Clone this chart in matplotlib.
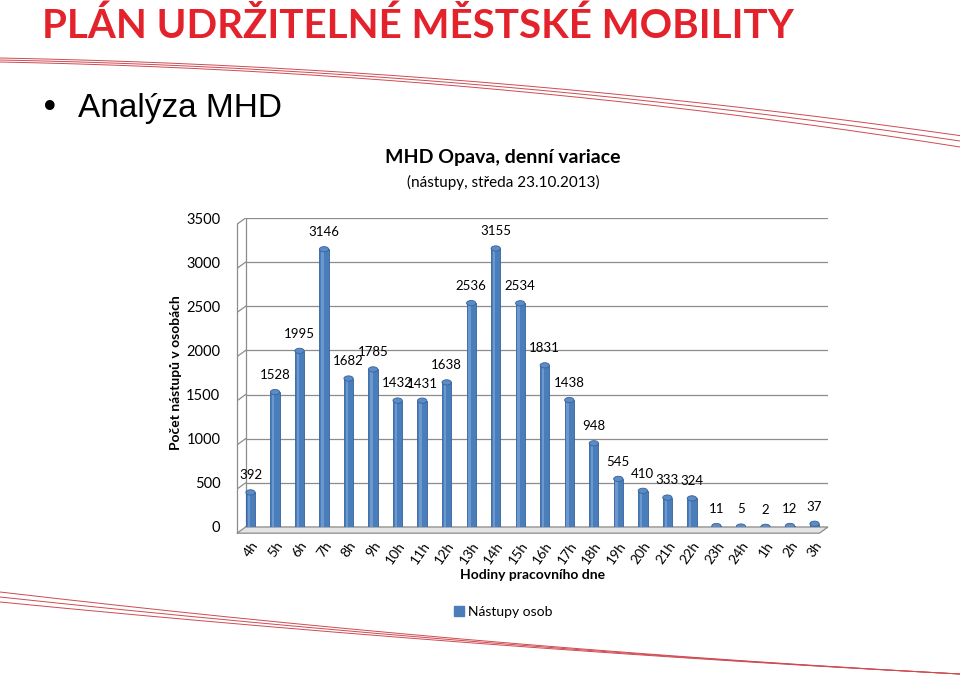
import matplotlib.pyplot as plt
import numpy as np
from matplotlib.patches import Ellipse, Polygon

hours = ["4h", "5h", "6h", "7h", "8h", "9h", "10h", "11h", "12h", "13h", "14h", "15h",
         "16h", "17h", "18h", "19h", "20h", "21h", "22h", "23h", "24h", "1h", "2h", "3h"]
boardings = [392, 1528, 1995, 3146, 1682, 1785, 1432, 1431, 1638, 2536, 3155, 2534,
             1831, 1438, 948, 545, 410, 333, 324, 11, 5, 2, 12, 37]
yticks = [0, 500, 1000, 1500, 2000, 2500, 3000, 3500]

font = "Lato"
blue = "#4A7EBB"
grid = "#8C8C8C"

fig = plt.figure(figsize=(9.6, 6.81), dpi=100)

# slide background decoration (red swooshes)
bg = fig.add_axes([0, 0, 1, 1])
bg.set_xlim(0, 960)
bg.set_ylim(681, 0)
bg.axis("off")
xs = np.linspace(0, 960, 200)
for a, c in [(58, 6.4e-5), (60, 6.77e-5), (62, 7.2e-5)]:
    bg.plot(xs, a + 0.0194 * xs + c * xs ** 2, color="#CF4A52", lw=0.7)
for a, b in [(592, 0.117), (597, 0.1073), (602, 0.098)]:
    c = (674 - a - b * 960) / 960 ** 2
    bg.plot(xs, a + b * xs + c * xs ** 2, color="#CF4A52", lw=0.7)

fig.text(42, 681 - 26, "PLÁN UDRŽITELNÉ MĚSTSKÉ MOBILITY", transform=None,
         fontsize=29, fontweight="bold", color="#E3222B", family=font, va="center")
fig.text(40, 681 - 108, "•", transform=None, fontsize=24, va="center", family="DejaVu Sans")
fig.text(78, 681 - 108, "Analýza MHD", transform=None, fontsize=24, va="center",
         family="Liberation Sans")

fig.text(503 / 960, 1 - 158 / 681, "MHD Opava, denní variace", ha="center", va="center",
         fontsize=14, fontweight="bold", family=font)
fig.text(503 / 960, 1 - 182 / 681, "(nástupy, středa 23.10.2013)", ha="center", va="center",
         fontsize=11, family=font)

# chart
ax = fig.add_axes([237 / 960, 1 - 527 / 681, 591 / 960, 309 / 681])
ax.set_xlim(-0.55, 23.55)
ax.set_ylim(0, 3500)
for s in ax.spines.values():
    s.set_visible(False)
ax.patch.set_alpha(0)

x = np.arange(len(hours))
drop = 70
for v in yticks:
    ax.plot([-0.2, 23.55], [v, v], color=grid, lw=0.9, zorder=1)
    ax.plot([-0.55, -0.2], [v - drop, v], color=grid, lw=0.9, zorder=1)
ax.plot([-0.55, -0.55], [-drop, 3500 - drop], color=grid, lw=0.9, clip_on=False)
ax.plot([-0.2, -0.2], [0, 3500], color=grid, lw=0.9)
ax.add_patch(Polygon([(-0.55, -drop), (23.2, -drop), (23.55, 0), (-0.2, 0)],
                     closed=True, facecolor="#E4E4E4", edgecolor=grid, lw=0.9,
                     clip_on=False, zorder=1))

w = 0.38
base = -drop / 2
ax.bar(x, np.array(boardings) - base, bottom=base, width=w, color=blue,
       edgecolor="#35639C", lw=0.6, zorder=3)
ax.bar(x - w * 0.18, np.array(boardings) - base, bottom=base, width=w * 0.25,
       color="#6C98D0", lw=0, zorder=3)
for xi, v in zip(x, boardings):
    ax.add_patch(Ellipse((xi, v), w, 60, facecolor="#5D8BC6", edgecolor="#35639C",
                         lw=0.6, zorder=4))
    ax.annotate(str(v), (xi, v), xytext=(0, 8), textcoords="offset points",
                ha="center", va="bottom", fontsize=9.5, family=font)

ax.set_xticks(x)
ax.set_xticklabels(hours, rotation=55, ha="right", rotation_mode="anchor",
                   fontsize=10, family=font)
ax.set_yticks(yticks)
ax.set_yticklabels([str(v) for v in yticks], fontsize=10.5, family=font)
ax.tick_params(length=0)
ax.tick_params(axis="y", pad=12)
ax.tick_params(axis="x", pad=9)

ax.set_xlabel("Hodiny pracovního dne", fontsize=10, fontweight="bold", family=font,
              labelpad=2)
ax.set_ylabel("Počet nástupů v osobách", fontsize=10, fontweight="bold", family=font,
              labelpad=3)

fig.legend(handles=[plt.Rectangle((0, 0), 1, 1, color=blue)], labels=["Nástupy osob"],
           loc="center", bbox_to_anchor=(503 / 960, 1 - 612 / 681), frameon=False,
           prop={"family": font, "size": 10}, handlelength=0.7, handleheight=0.7,
           handletextpad=0.3)

fig.savefig("out.png", dpi=100)
